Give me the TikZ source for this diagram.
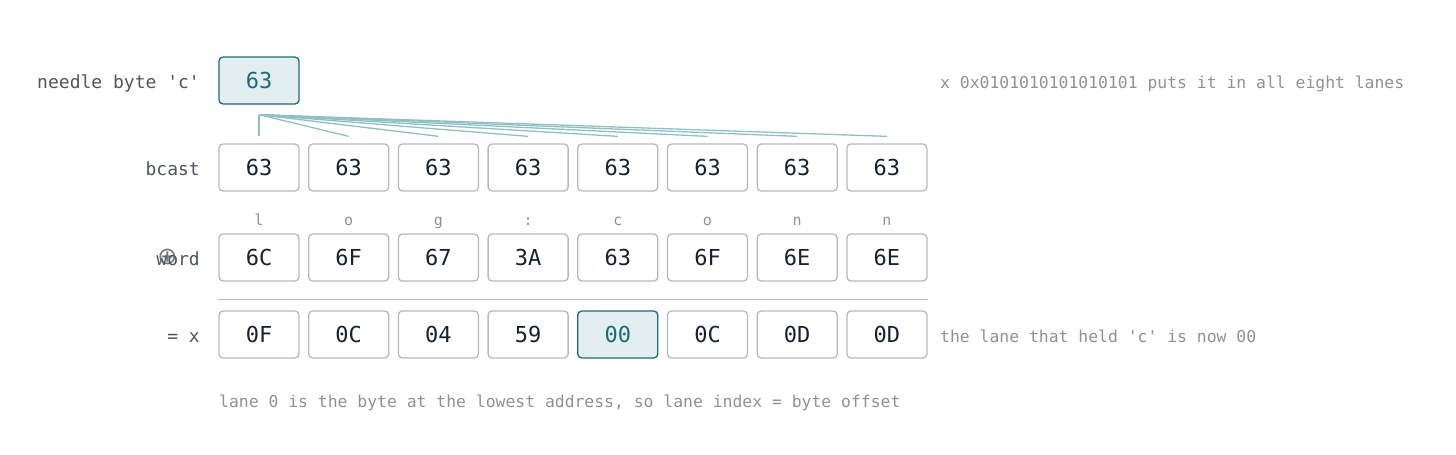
\documentclass[tikz,border=0pt]{standalone}
\usepackage{fontspec}
\setmonofont{DejaVu Sans Mono}
\newfontfamily\opfont{DejaVu Sans}
\usepackage{xcolor}
\usetikzlibrary{positioning}

\definecolor{ink}{HTML}{16222F}
\definecolor{laneedge}{HTML}{B5B8BC}
\definecolor{labelgray}{HTML}{4D5661}
\definecolor{notegray}{HTML}{8C9298}
\definecolor{hitteal}{HTML}{1B6B7A}
\definecolor{hitfill}{HTML}{E3EEF0}
\definecolor{fanteal}{HTML}{8FC0C4}

\begin{document}
\begin{tikzpicture}[x=1pt,y=-1pt,
	lane/.style={draw=laneedge,line width=1.3pt,rounded corners=4pt,
		minimum width=80pt,minimum height=47pt,inner sep=0pt,
		font=\ttfamily\fontsize{22}{22}\selectfont,text=ink},
	hit/.style={lane,draw=hitteal,fill=hitfill,text=hitteal},
	rowlabel/.style={anchor=base east,inner sep=0pt,font=\ttfamily\fontsize{18}{18}\selectfont,text=labelgray},
	note/.style={anchor=base west,inner sep=0pt,font=\ttfamily\fontsize{16.4}{16.4}\selectfont,text=notegray},
	letter/.style={anchor=base,inner sep=0pt,font=\ttfamily\fontsize{15}{15}\selectfont,text=notegray},
	fan/.style={draw=fanteal,line width=1.3pt}
]
	\useasboundingbox (0,0) rectangle (1456,455);

	% needle
	\node[hit] (needle) at (259,80.5) {63};
	\node[rowlabel] (lneedle) at (200,88) {needle byte 'c'};
	\node[note] (nbcast) at (940,88) {x 0x0101010101010101 puts it in all eight lanes};

	% broadcast row
	\node[rowlabel] (lbcast) at (200,175) {bcast};
	\foreach \i in {1,...,8}
		\node[lane] (b\i) at ({259+89.7*(\i-1)},167.5) {63};

	\coordinate (fan0) at ([yshift=-10pt]needle.south);
	\foreach \i in {1,...,8}
		\draw[fan] (fan0) -- ([yshift=7pt]b\i.north);

	% word row
	\node[rowlabel] (lword) at (200,265)
		{\rlap{\kern10.9pt\makebox[0pt][c]{\raisebox{0.5pt}{\opfont\fontsize{24}{24}\selectfont\color{labelgray!80} ⊕}}}word};
	\foreach \i/\ch/\hx in {1/l/6C,2/o/6F,3/g/67,4/:/3A,5/c/63,6/o/6F,7/n/6E,8/n/6E}{
		\node[lane] (w\i) at ({259+89.7*(\i-1)},257.5) {\hx};
		\node[letter] (c\i) at ({259+89.7*(\i-1)},225) {\ch};
	}
	\draw[draw=laneedge,line width=1.3pt]
		([yshift=-18pt]w1.south west) -- ([yshift=-18pt]w8.south east);

	% result row
	\node[rowlabel] (lx) at (200,342) {= x};
	\foreach \i/\hx in {1/0F,2/0C,3/04,4/59,6/0C,7/0D,8/0D}
		\node[lane] (x\i) at ({259+89.7*(\i-1)},334.5) {\hx};
	\node[hit] (x5) at ({259+89.7*4},334.5) {00};
	\node[note] (nhit) at (940,342) {the lane that held 'c' is now 00};

	\node[note] (nlane) at (219,407) {lane 0 is the byte at the lowest address, so lane index = byte offset};
\end{tikzpicture}
\end{document}
